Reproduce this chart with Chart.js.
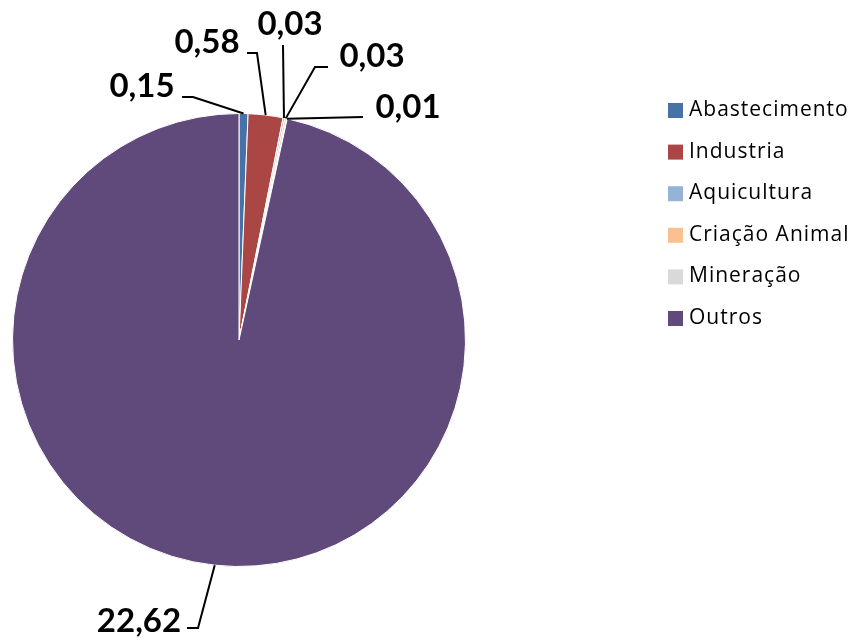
<!DOCTYPE html>
<html>
<head>
<meta charset="utf-8">
<script src="https://cdn.jsdelivr.net/npm/chart.js@4"></script>
<style>
html,body{margin:0;padding:0;background:#fff;}
#wrap{width:856px;height:641px;position:relative;}
</style>
</head>
<body>
<div id="wrap"><canvas id="c" width="856" height="641"></canvas></div>
<script>
const categories = ["Abastecimento", "Industria", "Aquicultura", "Criação Animal", "Mineração", "Outros"];
const values = [0.15, 0.58, 0.03, 0.03, 0.01, 22.62];
const sliceColors = ["#4672A8", "#AA4644", "#95B3D7", "#FAC090", "#D9D9D9", "#604A7B"];

// label layout (text centre x, text baseline y, leader polyline points after the arc point)
const labelLayout = [
  {x: 142, y: 97,  pts: [[193, 97], [182, 97]]},
  {x: 207, y: 53,  pts: [[257, 53], [247, 53]]},
  {x: 290, y: 35,  pts: [[283, 45]]},
  {x: 372, y: 67,  pts: [[315, 67], [328, 67]]},
  {x: 408, y: 118, pts: [[363, 117]]},
  {x: 139, y: 632, pts: [[198, 628], [187, 628]]}
];

const fmt = v => v.toFixed(2).replace('.', ',');

const labelsPlugin = {
  id: 'leaderLabels',
  afterDatasetsDraw(chart) {
    const ctx = chart.ctx;
    const meta = chart.getDatasetMeta(0);
    ctx.save();
    meta.data.forEach((arc, i) => {
      const p = arc.getProps(['x', 'y', 'startAngle', 'endAngle', 'outerRadius'], true);
      const mid = (p.startAngle + p.endAngle) / 2;
      const ax = p.x + Math.cos(mid) * p.outerRadius;
      const ay = p.y + Math.sin(mid) * p.outerRadius;
      const L = labelLayout[i];
      ctx.beginPath();
      ctx.moveTo(ax, ay);
      L.pts.forEach(pt => ctx.lineTo(pt[0], pt[1]));
      ctx.strokeStyle = '#000';
      ctx.lineWidth = 2;
      ctx.stroke();
      ctx.fillStyle = '#000';
      ctx.font = 'bold 33px Lato';
      ctx.textAlign = 'center';
      ctx.textBaseline = 'alphabetic';
      ctx.fillText(fmt(values[i]), L.x, L.y);
    });
    ctx.restore();
  }
};

const legendPlugin = {
  id: 'sideLegend',
  afterDraw(chart) {
    const ctx = chart.ctx;
    ctx.save();
    ctx.font = '21px "Open Sans"';
    if ('letterSpacing' in ctx) ctx.letterSpacing = '1px';
    ctx.textBaseline = 'alphabetic';
    ctx.textAlign = 'left';
    chart.data.labels.forEach((lab, i) => {
      const y = 110.5 + i * 41.6;
      ctx.fillStyle = chart.data.datasets[0].backgroundColor[i];
      ctx.fillRect(668, y - 7.5, 15, 15);
      ctx.fillStyle = '#000';
      ctx.fillText(lab, 689, y + 5.5);
    });
    ctx.restore();
  }
};

new Chart(document.getElementById('c'), {
  type: 'pie',
  data: {
    labels: categories,
    datasets: [{
      data: values,
      backgroundColor: sliceColors,
      borderColor: '#ffffff',
      borderWidth: 1
    }]
  },
  options: {
    responsive: false,
    animation: false,
    layout: {padding: {left: 12, right: 390, top: 113, bottom: 74}},
    plugins: {
      legend: {display: false},
      tooltip: {enabled: false}
    }
  },
  plugins: [labelsPlugin, legendPlugin]
});
</script>
</body>
</html>
